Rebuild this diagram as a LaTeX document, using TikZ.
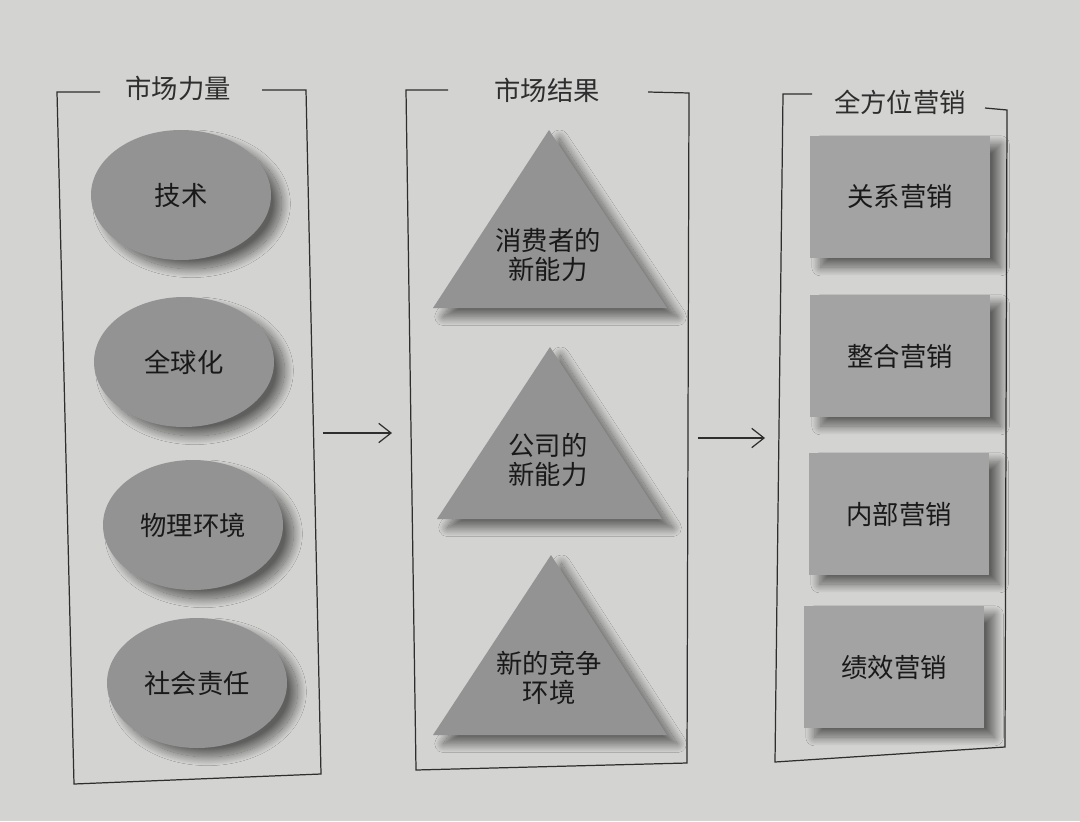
\documentclass[tikz,border=0pt]{standalone}
\usepackage{fontspec}
\setmainfont{Noto Sans CJK SC}
\usepackage{xcolor}
\usetikzlibrary{shapes.geometric,shadows.blur,arrows.meta}

\definecolor{pagegray}{HTML}{D3D3D1}
\definecolor{shapegray}{HTML}{939393}
\definecolor{inkgray}{HTML}{2E2E2E}

\begin{document}
\begin{tikzpicture}[x=0.2mm, y=-0.2mm, font=\fontsize{15}{17}\selectfont,
    boxline/.style={draw=inkgray, line width=0.7pt},
    headtext/.style={text=inkgray, inner sep=2pt},
    softshadow/.style={blur shadow={shadow xshift=6pt, shadow yshift=-5pt,
        shadow blur radius=5pt, shadow blur steps=25, shadow opacity=55}},
    oval/.style={ellipse, fill=shapegray, softshadow, text=black!90,
        minimum width=3.6cm, minimum height=2.6cm},
    card/.style={rectangle, fill=shapegray!85, softshadow, text=black!90,
        minimum width=3.6cm, minimum height=2.45cm},
    tritext/.style={align=center, text=black!90}]

    % Page
    \fill[pagegray] (0,0) rectangle (1080,821);

    % Market forces
    \node[headtext] (forces) at (178,88) {市场力量};
    \draw[boxline] (100,92) -- (57,92) -- (74,784) -- (321,774) -- (306,90) -- (262,90);
    \node[oval] (tech) at (181,195) {技术};
    \node[oval] (global) at (184,362) {全球化};
    \node[oval] (environ) at (193,525) {物理环境};
    \node[oval] (social) at (197,683) {社会责任};

    % Market results
    \node[headtext] (results) at (547,90) {市场结果};
    \draw[boxline] (448,90) -- (406,90) -- (416,770) -- (687,763) -- (689,93) -- (648,92);
    \fill[shapegray, softshadow] (549,130) -- (667,308) -- (433,308) -- cycle;
    \node[tritext] (consumer) at (548,255) {消费者的\\新能力};
    \fill[shapegray, softshadow] (550,347) -- (662,519) -- (437,519) -- cycle;
    \node[tritext] (company) at (548,460) {公司的\\新能力};
    \fill[shapegray, softshadow] (551,555) -- (667,735) -- (433,735) -- cycle;
    \node[tritext] (compete) at (549,678) {新的竞争\\环境};

    % Holistic marketing
    \node[headtext] (holistic) at (900,102) {全方位营销};
    \draw[boxline] (812,94) -- (783,94) -- (775,762) -- (1005,747) -- (1007,110) -- (985,108);
    \node[card] (relation) at (900,197) {关系营销};
    \node[card] (integrated) at (900,356) {整合营销};
    \node[card] (internal) at (899,514) {内部营销};
    \node[card] (performance) at (894,667) {绩效营销};

    % Arrows between boxes
    \coordinate (arrA) at (323,433);
    \coordinate (arrB) at (392,433);
    \coordinate (arrC) at (698,438);
    \coordinate (arrD) at (765,438);
    \draw[inkgray, line width=0.7pt, -{Straight Barb[length=7pt,width=11pt]}] (arrA) -- (arrB);
    \draw[inkgray, line width=0.7pt, -{Straight Barb[length=7pt,width=11pt]}] (arrC) -- (arrD);
\end{tikzpicture}
\end{document}
